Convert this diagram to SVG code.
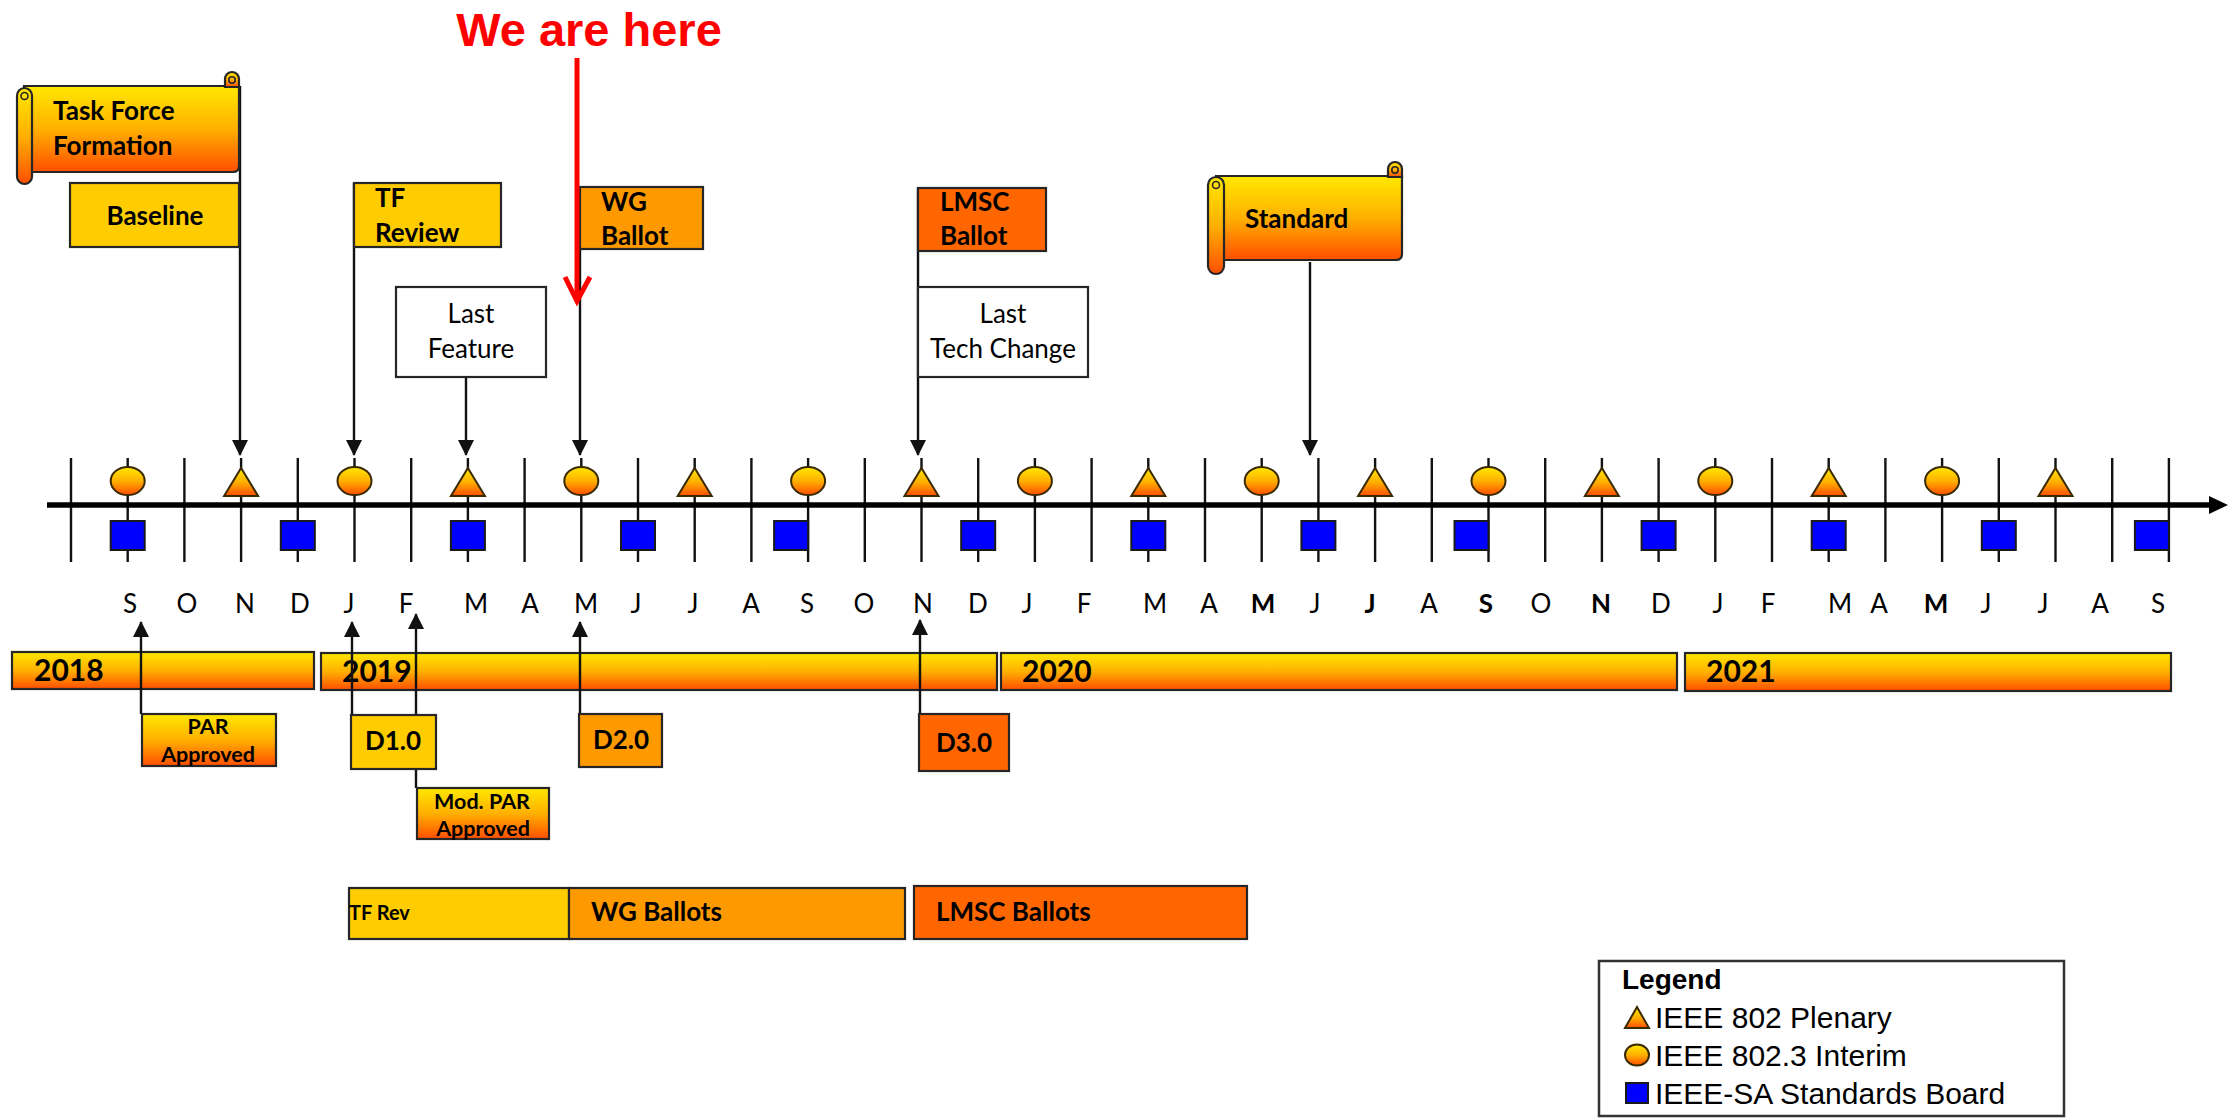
<svg xmlns="http://www.w3.org/2000/svg" width="2236" height="1118" viewBox="0 0 2236 1118">
<style>
.c{font-family:Lato,"Open Sans","Liberation Sans",sans-serif;fill:#000}
.b{font-weight:700}
.a{font-family:"Liberation Sans",Arial,sans-serif;fill:#000}
.f26{font-size:26px}
.f20{font-size:20px}
.f21{font-size:21.5px}
.f30{font-size:30px}
.mid{text-anchor:middle}
.box{stroke:#262626;stroke-width:2.2}
.gold{fill:#FFCC00}
.org{fill:#FF9900}
.red{fill:#FF6600}
.wht{fill:#fff}
.grad{fill:url(#g)}
.sym{fill:url(#g);stroke:#3a2a00;stroke-width:2}
.sqr{fill:#0000FF;stroke:#1a1a1a;stroke-width:2}
.con{stroke:#111;stroke-width:2.4;fill:none}
.tick{stroke:#111;stroke-width:2.4;fill:none}
.mo{font-size:26px;text-anchor:middle}
.lg{font-size:30px}
</style>
<defs>
<linearGradient id="g" x1="0" y1="0" x2="0" y2="1">
<stop offset="0" stop-color="#FFE800"/>
<stop offset="0.5" stop-color="#FFB000"/>
<stop offset="1" stop-color="#FF4E00"/>
</linearGradient>
<marker id="ah" markerUnits="userSpaceOnUse" markerWidth="16" markerHeight="16" viewBox="0 0 16 16" refX="15" refY="8" orient="auto">
<path d="M0,0 L16,8 L0,16 Z" fill="#111"/>
</marker>
<ellipse id="ci" cx="0" cy="481" rx="17" ry="14" class="sym"/>
<path id="tr" d="M0,468 L17,496 L-17,496 Z" class="sym"/>
<rect id="sq" x="-17" y="521" width="34" height="29" class="sqr"/>
<rect id="sql" x="-34" y="521" width="34" height="29" class="sqr"/>
</defs>
<rect width="2236" height="1118" fill="#fff"/>

<g id="years">
<rect x="12" y="652" width="302" height="37" class="grad box"/>
<text x="34" y="681" class="c b f30">2018</text>
<rect x="321" y="653" width="676" height="37" class="grad box"/>
<text x="342" y="682" class="c b f30">2019</text>
<rect x="1001" y="653" width="676" height="37" class="grad box"/>
<text x="1022" y="682" class="c b f30">2020</text>
<rect x="1685" y="653" width="486" height="38" class="grad box"/>
<text x="1706" y="682" class="c b f30">2021</text>
</g>

<g id="timeline">
<path class="tick" d="M71,458V562M127.7,458V562M184.4,458V562M241.1,458V562M297.8,458V562M354.5,458V562M411.2,458V562M467.9,458V562M524.6,458V562M581.3,458V562M638,458V562M694.7,458V562M751.4,458V562M808.1,458V562M864.8,458V562M921.5,458V562M978.2,458V562M1034.9,458V562M1091.6,458V562M1148.3,458V562M1205,458V562M1261.7,458V562M1318.4,458V562M1375.1,458V562M1431.8,458V562M1488.5,458V562M1545.2,458V562M1601.9,458V562M1658.6,458V562M1715.3,458V562M1772,458V562M1828.7,458V562M1885.4,458V562M1942.1,458V562M1998.8,458V562M2055.5,458V562M2112.2,458V562M2168.9,458V562"/>
<line x1="47" y1="505" x2="2212" y2="505" stroke="#000" stroke-width="5.5"/>
<path d="M2209,496 L2228,505 L2209,514 Z" fill="#000"/>
<use href="#ci" x="127.7"/><use href="#ci" x="354.5"/><use href="#ci" x="581.3"/><use href="#ci" x="808.1"/><use href="#ci" x="1034.9"/><use href="#ci" x="1261.7"/><use href="#ci" x="1488.5"/><use href="#ci" x="1715.3"/><use href="#ci" x="1942.1"/>
<use href="#tr" x="241.1"/><use href="#tr" x="467.9"/><use href="#tr" x="694.7"/><use href="#tr" x="921.5"/><use href="#tr" x="1148.3"/><use href="#tr" x="1375.1"/><use href="#tr" x="1601.9"/><use href="#tr" x="1828.7"/><use href="#tr" x="2055.5"/>
<use href="#sq" x="127.7"/><use href="#sq" x="297.8"/><use href="#sq" x="467.9"/><use href="#sq" x="638"/><use href="#sq" x="978.2"/><use href="#sq" x="1148.3"/><use href="#sq" x="1318.4"/><use href="#sq" x="1658.6"/><use href="#sq" x="1828.7"/><use href="#sq" x="1998.8"/>
<use href="#sql" x="808.1"/><use href="#sql" x="1488.5"/><use href="#sql" x="2168.9"/>
</g>

<g id="months" class="c">
<text x="130" y="613" class="mo">S</text><text x="187" y="613" class="mo">O</text><text x="245" y="613" class="mo">N</text><text x="300" y="613" class="mo">D</text><text x="349" y="613" class="mo">J</text><text x="406" y="613" class="mo">F</text><text x="476" y="613" class="mo">M</text><text x="530" y="613" class="mo">A</text><text x="586" y="613" class="mo">M</text><text x="636" y="613" class="mo">J</text><text x="693" y="613" class="mo">J</text><text x="751" y="613" class="mo">A</text><text x="807" y="613" class="mo">S</text><text x="864" y="613" class="mo">O</text><text x="923" y="613" class="mo">N</text><text x="978" y="613" class="mo">D</text><text x="1027" y="613" class="mo">J</text><text x="1084" y="613" class="mo">F</text><text x="1155" y="613" class="mo">M</text><text x="1209" y="613" class="mo">A</text><text x="1263" y="613" class="mo b">M</text><text x="1315" y="613" class="mo">J</text><text x="1370" y="613" class="mo b">J</text><text x="1429" y="613" class="mo">A</text><text x="1486" y="613" class="mo b">S</text><text x="1541" y="613" class="mo">O</text><text x="1601" y="613" class="mo b">N</text><text x="1661" y="613" class="mo">D</text><text x="1718" y="613" class="mo">J</text><text x="1768" y="613" class="mo">F</text><text x="1840" y="613" class="mo">M</text><text x="1879" y="613" class="mo">A</text><text x="1936" y="613" class="mo b">M</text><text x="1986" y="613" class="mo">J</text><text x="2043" y="613" class="mo">J</text><text x="2100" y="613" class="mo">A</text><text x="2158" y="613" class="mo">S</text>
</g>

<g id="connectors">
<line x1="240" y1="86" x2="240" y2="455" class="con" marker-end="url(#ah)"/>
<line x1="354" y1="183" x2="354" y2="455" class="con" marker-end="url(#ah)"/>
<line x1="466" y1="377" x2="466" y2="455" class="con" marker-end="url(#ah)"/>
<line x1="580" y1="249" x2="580" y2="455" class="con" marker-end="url(#ah)"/>
<line x1="918" y1="188" x2="918" y2="455" class="con" marker-end="url(#ah)"/>
<line x1="1310" y1="262" x2="1310" y2="455" class="con" marker-end="url(#ah)"/>
<line x1="141" y1="714" x2="141" y2="622" class="con" marker-end="url(#ah)"/>
<line x1="352" y1="715" x2="352" y2="622" class="con" marker-end="url(#ah)"/>
<line x1="416" y1="788" x2="416" y2="614" class="con" marker-end="url(#ah)"/>
<line x1="580" y1="714" x2="580" y2="622" class="con" marker-end="url(#ah)"/>
<line x1="920" y1="714" x2="920" y2="620" class="con" marker-end="url(#ah)"/>
</g>

<g id="task-force-formation">
<path d="M24,86 H239 V166 Q239,172 233,172 H24 Z" class="grad box"/>
<path d="M225,87 V79 A7,7 0 0 1 239,79 V87 Z" class="grad box"/>
<circle cx="232" cy="80" r="3.2" fill="none" stroke="#262626" stroke-width="1.6"/>
<rect x="17" y="88" width="15" height="96" rx="7.5" class="grad box"/>
<circle cx="24.5" cy="96" r="3.5" fill="none" stroke="#262626" stroke-width="1.6"/>
<text x="53" y="120" class="c b f26">Task Force</text>
<text x="53" y="155" class="c b f26">Formation</text>
</g>

<g id="baseline">
<rect x="70" y="183" width="169" height="64" class="gold box"/>
<text x="155" y="225" class="c b f26 mid">Baseline</text>
</g>

<g id="tf-review">
<rect x="354" y="183" width="147" height="64" class="gold box"/>
<text x="375" y="207" class="c b f26">TF</text>
<text x="375" y="242" class="c b f26">Review</text>
</g>

<g id="last-feature">
<rect x="396" y="287" width="150" height="90" class="wht box"/>
<text x="471" y="323" class="c f26 mid">Last</text>
<text x="471" y="358" class="c f26 mid">Feature</text>
</g>

<g id="wg-ballot">
<rect x="580" y="187" width="123" height="62" class="org box"/>
<text x="601" y="211" class="c b f26">WG</text>
<text x="601" y="245" class="c b f26">Ballot</text>
</g>

<g id="lmsc-ballot">
<rect x="918" y="188" width="128" height="63" class="red box"/>
<text x="940" y="211" class="c b f26">LMSC</text>
<text x="940" y="245" class="c b f26">Ballot</text>
</g>

<g id="last-tech-change">
<rect x="918" y="287" width="170" height="90" class="wht box"/>
<text x="1003" y="323" class="c f26 mid">Last</text>
<text x="1003" y="358" class="c f26 mid">Tech Change</text>
</g>

<g id="standard">
<path d="M1216,176 H1402 V254 Q1402,260 1396,260 H1216 Z" class="grad box"/>
<path d="M1388,177 V169 A7,7 0 0 1 1402,169 V177 Z" class="grad box"/>
<circle cx="1395" cy="170" r="3.2" fill="none" stroke="#262626" stroke-width="1.6"/>
<rect x="1208" y="177" width="16" height="97" rx="8" class="grad box"/>
<circle cx="1216" cy="185" r="3.5" fill="none" stroke="#262626" stroke-width="1.6"/>
<text x="1245" y="228" class="c b f26">Standard</text>
</g>

<g id="par-approved">
<rect x="142" y="714" width="134" height="52" class="grad box"/>
<text x="208" y="734" class="c b f21 mid">PAR</text>
<text x="208" y="762" class="c b f21 mid">Approved</text>
</g>

<g id="d1-0">
<rect x="351" y="715" width="85" height="54" class="gold box"/>
<text x="393" y="750" class="c b f26 mid">D1.0</text>
</g>

<g id="mod-par-approved">
<rect x="417" y="788" width="132" height="51" class="grad box"/>
<text x="482" y="809" class="c b f21 mid">Mod. PAR</text>
<text x="483" y="836" class="c b f21 mid">Approved</text>
</g>

<g id="d2-0">
<rect x="579" y="714" width="83" height="53" class="org box"/>
<text x="621" y="749" class="c b f26 mid">D2.0</text>
</g>

<g id="d3-0">
<rect x="919" y="714" width="90" height="57" class="red box"/>
<text x="964" y="752" class="c b f26 mid">D3.0</text>
</g>

<g id="tf-rev">
<rect x="349" y="888" width="220" height="51" class="gold box"/>
<text x="349" y="920" class="c b f20">TF Rev</text>
</g>

<g id="wg-ballots">
<rect x="569" y="888" width="336" height="51" class="org box"/>
<text x="591" y="921" class="c b f26">WG Ballots</text>
</g>

<g id="lmsc-ballots">
<rect x="914" y="886" width="333" height="53" class="red box"/>
<text x="936" y="921" class="c b f26">LMSC Ballots</text>
</g>

<g id="legend">
<rect x="1599" y="961" width="465" height="155" fill="#fff" stroke="#333" stroke-width="2.5"/>
<text x="1622" y="989" class="a b" font-size="28">Legend</text>
<path d="M1637,1007 L1649,1028 L1625,1028 Z" class="sym"/>
<text x="1655" y="1028" class="a lg">IEEE 802 Plenary</text>
<ellipse cx="1637" cy="1055" rx="12" ry="10.5" class="sym"/>
<text x="1655" y="1066" class="a lg">IEEE 802.3 Interim</text>
<rect x="1626" y="1083" width="22" height="20" class="sqr"/>
<text x="1655" y="1104" class="a lg">IEEE-SA Standards Board</text>
</g>

<g id="we-are-here">
<text x="589" y="46" class="a b mid" font-size="47" style="fill:#FF0000">We are here</text>
<line x1="577" y1="58" x2="577" y2="298" stroke="#FF0000" stroke-width="5"/>
<polyline points="565,277 577,301 590,277" fill="none" stroke="#FF0000" stroke-width="5"/>
</g>
</svg>
